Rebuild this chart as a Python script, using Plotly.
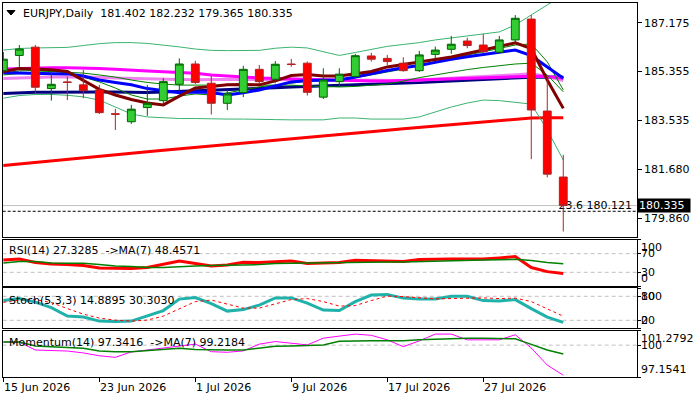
import plotly.graph_objects as go

# trading days shown on the chart
dates = ['2026-06-15', '2026-06-16', '2026-06-17', '2026-06-18', '2026-06-19',
         '2026-06-22', '2026-06-23', '2026-06-24', '2026-06-25', '2026-06-26',
         '2026-06-29', '2026-06-30', '2026-07-01', '2026-07-02', '2026-07-03',
         '2026-07-06', '2026-07-07', '2026-07-08', '2026-07-09', '2026-07-10',
         '2026-07-13', '2026-07-14', '2026-07-15', '2026-07-16', '2026-07-17',
         '2026-07-20', '2026-07-21', '2026-07-22', '2026-07-23', '2026-07-24',
         '2026-07-27', '2026-07-28', '2026-07-29', '2026-07-30', '2026-07-31',
         '2026-08-03']
label_dates = ['2026-06-15', '2026-06-23', '2026-07-01', '2026-07-09', '2026-07-17', '2026-07-27']
label_texts = ['15 Jun 2026', '23 Jun 2026', '1 Jul 2026', '9 Jul 2026', '17 Jul 2026', '27 Jul 2026']

opens = [185.38, 185.95, 186.26, 184.71, 184.96, 184.85, 184.66, 183.77, 183.47, 184.00,
         184.26, 184.87, 185.63, 184.91, 184.16, 184.56, 185.43, 185.06, 185.63, 185.66,
         184.39, 184.97, 185.16, 185.93, 185.84, 185.66, 185.38, 185.99, 186.18, 186.49,
         186.34, 186.07, 186.53, 187.31, 183.87, 181.402]
highs = [186.08, 186.34, 186.34, 185.41, 185.16, 185.41, 184.85, 183.95, 184.10, 184.85,
         185.10, 185.84, 185.75, 185.18, 184.66, 185.56, 185.59, 185.74, 185.82, 185.72,
         185.47, 185.47, 186.01, 186.05, 185.97, 185.88, 186.12, 186.28, 186.68, 186.61,
         186.75, 186.68, 187.46, 187.46, 185.10, 182.232]
lows = [185.29, 185.50, 184.53, 184.26, 184.28, 184.35, 183.76, 183.16, 183.39, 183.69,
        184.16, 184.63, 184.88, 183.74, 183.91, 184.39, 184.88, 184.91, 185.53, 184.45,
        184.32, 184.78, 185.10, 185.72, 185.59, 185.34, 185.33, 185.84, 186.01, 186.22,
        186.03, 186.01, 186.43, 182.07, 181.39, 179.365]
closes = [185.81, 186.19, 184.76, 184.87, 184.94, 184.63, 183.81, 183.75, 183.94, 184.16,
          184.97, 185.63, 184.94, 184.16, 184.51, 185.43, 184.97, 185.62, 185.61, 184.57,
          185.03, 185.25, 185.94, 185.81, 185.72, 185.38, 185.97, 186.15, 186.37, 186.32,
          186.09, 186.53, 187.34, 183.91, 181.51, 180.335]

# overlays on the price chart
bb_upper = [186.15, 186.21, 186.23, 186.23, 186.25, 186.32, 186.39, 186.43, 186.43, 186.40,
            186.34, 186.27, 186.19, 186.14, 186.13, 186.13, 186.14, 186.22, 186.26, 186.23,
            186.09, 185.95, 186.06, 186.17, 186.29, 186.36, 186.43, 186.53, 186.60, 186.68,
            186.75, 186.83, 187.09, 187.48, 187.84, 188.21]
bb_lower = [184.35, 184.45, 184.49, 184.49, 184.46, 184.40, 184.28, 184.02, 183.76, 183.65,
            183.61, 183.59, 183.59, 183.57, 183.57, 183.57, 183.57, 183.55, 183.54, 183.54,
            183.54, 183.61, 183.61, 183.57, 183.57, 183.57, 183.65, 183.84, 184.02, 184.17,
            184.28, 184.26, 184.19, 184.13, 183.16, 182.04]
ma_red = [181.83, 181.89, 181.95, 182.00, 182.06, 182.12, 182.18, 182.23, 182.29, 182.35,
          182.40, 182.45, 182.51, 182.56, 182.61, 182.67, 182.72, 182.78, 182.83, 182.89,
          182.94, 183.00, 183.05, 183.10, 183.15, 183.21, 183.26, 183.31, 183.36, 183.42,
          183.47, 183.52, 183.57, 183.61, 183.62, 183.62]
ma_navy = [184.53, 184.56, 184.57, 184.57, 184.58, 184.58, 184.58, 184.58, 184.57, 184.56,
           184.58, 184.60, 184.62, 184.64, 184.66, 184.68, 184.71, 184.74, 184.77, 184.79,
           184.81, 184.83, 184.84, 184.86, 184.88, 184.91, 184.94, 184.97, 184.99, 185.02,
           185.05, 185.08, 185.11, 185.13, 185.14, 185.13]
ma_blue = [185.30, 185.29, 185.28, 185.27, 185.26, 185.18, 185.03, 184.94, 184.85, 184.71,
           184.62, 184.55, 184.58, 184.56, 184.47, 184.55, 184.66, 184.81, 184.96, 185.01,
           185.03, 185.03, 185.14, 185.27, 185.39, 185.49, 185.57, 185.69, 185.81, 185.90,
           185.99, 186.07, 186.15, 185.94, 185.53, 185.10]
ma_maroon = [185.35, 185.46, 185.44, 185.41, 185.35, 185.03, 184.68, 184.47, 184.30, 184.17,
             184.10, 184.43, 184.73, 184.79, 184.85, 184.86, 184.85, 185.00, 185.20, 185.24,
             185.18, 185.18, 185.27, 185.35, 185.52, 185.61, 185.72, 185.80, 185.89, 186.02,
             186.15, 186.27, 186.42, 186.21, 185.03, 183.97]
ma_magenta = [185.44, 185.46, 185.49, 185.49, 185.49, 185.48, 185.46, 185.43, 185.39, 185.37,
              185.34, 185.31, 185.28, 185.22, 185.18, 185.14, 185.11, 185.09, 185.07, 185.05,
              185.03, 185.01, 184.99, 184.99, 184.99, 185.01, 185.03, 185.06, 185.08, 185.11,
              185.13, 185.14, 185.16, 185.17, 185.16, 185.10]
ma_violet = [185.09, 185.11, 185.13, 185.14, 185.14, 185.14, 185.13, 185.11, 185.09, 185.07,
             185.06, 185.05, 185.04, 185.05, 185.06, 185.06, 185.05, 185.04, 185.03, 185.03,
             185.03, 185.03, 185.02, 185.01, 185.01, 185.01, 185.03, 185.07, 185.11, 185.13,
             185.16, 185.20, 185.24, 185.26, 185.16, 185.01]
ma_green_slow = [185.22, 185.27, 185.33, 185.35, 185.33, 185.29, 185.22, 185.14, 185.03, 184.94,
                 184.88, 184.84, 184.84, 184.84, 184.84, 184.86, 184.86, 184.86, 184.84, 184.81,
                 184.79, 184.77, 184.79, 184.83, 184.88, 184.99, 185.12, 185.22, 185.33, 185.42,
                 185.50, 185.57, 185.63, 185.66, 185.22, 184.59]
ma_green_fast = [185.29, 185.37, 185.39, 185.37, 185.29, 185.14, 184.96, 184.73, 184.47, 184.32,
                 184.32, 184.43, 184.51, 184.47, 184.55, 184.66, 184.77, 184.84, 184.92, 184.99,
                 185.03, 185.05, 185.11, 185.22, 185.33, 185.44, 185.59, 185.71, 185.84, 185.97,
                 186.08, 186.21, 186.34, 186.38, 185.71, 184.66]

# oscillators
rsi = [56.5, 58.7, 51.0, 47.8, 46.7, 44.5, 39.1, 38.0, 38.0, 40.2,
       47.8, 54.3, 48.9, 43.5, 45.7, 51.5, 51.1, 53.3, 54.3, 48.9,
       50.7, 51.1, 55.9, 55.4, 54.3, 53.3, 57.6, 58.7, 58.7, 58.7,
       58.7, 60.9, 63.7, 40.2, 31.5, 27.3285]
rsi_ma = [50.0, 53.3, 53.3, 50.0, 49.3, 49.3, 46.7, 43.5, 42.4, 40.2,
          40.2, 42.4, 43.5, 44.6, 44.6, 45.7, 46.7, 48.9, 49.3, 50.0,
          50.7, 51.5, 52.2, 52.2, 52.2, 52.2, 53.3, 54.3, 55.9, 56.5,
          56.5, 57.2, 58.0, 55.4, 51.1, 48.4571]
stoch_k = [69.3, 74.3, 65.5, 51.8, 30.5, 28.0, 18.0, 16.8, 18.0, 30.5,
           44.3, 73.0, 76.8, 61.8, 43.0, 46.8, 58.0, 76.0, 76.0, 63.0,
           45.5, 44.3, 66.8, 83.0, 84.3, 75.5, 73.5, 73.5, 80.0, 80.0,
           69.3, 68.0, 71.8, 49.3, 28.0, 14.8895]
stoch_d = [65.0, 70.5, 71.8, 64.3, 49.3, 35.5, 25.5, 20.5, 18.0, 20.5,
           30.5, 49.3, 66.8, 70.5, 60.5, 50.5, 50.5, 61.8, 71.8, 74.3,
           66.8, 55.5, 56.8, 69.3, 80.5, 79.3, 75.5, 73.5, 74.3, 76.0,
           76.0, 74.3, 75.5, 66.8, 49.3, 30.3030]
momentum = [100.27, 100.27, 99.57, 99.53, 99.48, 99.31, 99.06, 98.92, 99.40, 99.57,
            99.73, 99.91, 100.09, 99.42, 99.37, 99.49, 100.09, 100.32, 100.18, 100.02,
            100.62, 100.83, 100.98, 100.87, 100.47, 99.87, 100.38, 100.98, 100.98, 100.47,
            100.47, 100.47, 100.92, 99.75, 98.23, 97.3416]
momentum_ma = [100.27, 100.27, 99.93, 99.87, 99.84, 99.73, 99.49, 99.42, 99.42, 99.53,
               99.66, 99.73, 99.62, 99.57, 99.57, 99.57, 99.75, 99.91, 99.93, 99.98,
               100.02, 100.34, 100.38, 100.38, 100.38, 100.38, 100.47, 100.52, 100.62, 100.62,
               100.62, 100.62, 100.56, 100.07, 99.57, 99.2184]

price_ticks = [187.175, 185.355, 183.535, 181.680, 179.860]
fib_level = 180.121
mom_max, mom_min = 101.2792, 97.1541

W, H = 700, 400
FONT = 'DejaVu Sans'
idx = list(range(len(dates)))


def px_x(p):
    return p / W


def px_y(p):
    return 1 - p / H


xdom = [px_x(2.7), px_x(636.7)]
xr = [-0.04, 39.59]
main_rng = [179.17, 187.93]

fig = go.Figure()

# indicator lines under the candles
main_lines = [
    (ma_red, '#FF0000', 3),
    (ma_navy, '#000080', 3),
    (ma_violet, '#EE82EE', 3),
    (ma_magenta, '#FF00FF', 3),
    (ma_green_slow, '#008000', 1),
    (ma_green_fast, '#008000', 1),
    (bb_upper, '#3CB371', 1),
    (bb_lower, '#3CB371', 1),
    (ma_blue, '#0000FF', 3),
    (ma_maroon, '#800000', 3),
]
for vals, col, w in main_lines:
    fig.add_trace(go.Scatter(x=idx, y=vals, mode='lines', line=dict(color=col, width=w),
                             xaxis='x', yaxis='y', hoverinfo='skip'))

# fibo level text (sits under the last candle like in the terminal)
fig.add_trace(go.Scatter(x=[xr[1] - 0.3], y=[fib_level], mode='text',
                         text=['23.6 %.3f' % fib_level], textposition='top left',
                         textfont=dict(family=FONT, size=11, color='black'),
                         xaxis='x', yaxis='y', hoverinfo='skip'))

fig.add_trace(go.Candlestick(
    x=idx, open=opens, high=highs, low=lows, close=closes,
    xaxis='x', yaxis='y5',
    increasing=dict(line=dict(color='#006400', width=1), fillcolor='#32CD32'),
    decreasing=dict(line=dict(color='#B22222', width=1), fillcolor='#FF0000'),
    hoverinfo='skip'))

fig.add_trace(go.Scatter(x=idx, y=rsi, mode='lines', line=dict(color='#FF0000', width=3),
                         xaxis='x2', yaxis='y2'))
fig.add_trace(go.Scatter(x=idx, y=rsi_ma, mode='lines', line=dict(color='#008000', width=1.5),
                         xaxis='x2', yaxis='y2'))
fig.add_trace(go.Scatter(x=idx, y=stoch_k, mode='lines', line=dict(color='#20B2AA', width=3),
                         xaxis='x3', yaxis='y3'))
fig.add_trace(go.Scatter(x=idx, y=stoch_d, mode='lines',
                         line=dict(color='#FF0000', width=1, dash='3px,3px'),
                         xaxis='x3', yaxis='y3'))
fig.add_trace(go.Scatter(x=idx, y=momentum, mode='lines', line=dict(color='#FF00FF', width=1),
                         xaxis='x4', yaxis='y4'))
fig.add_trace(go.Scatter(x=idx, y=momentum_ma, mode='lines', line=dict(color='#008000', width=1.5),
                         xaxis='x4', yaxis='y4'))

box = dict(showline=True, mirror=True, linecolor='black', linewidth=1,
           showgrid=False, zeroline=False)
tick_idx = [dates.index(d) for d in label_dates]

fig.update_layout(
    width=W, height=H, margin=dict(l=0, r=0, t=0, b=0),
    paper_bgcolor='white', plot_bgcolor='white', showlegend=False,
    font=dict(family=FONT, size=11, color='black'),
    xaxis=dict(domain=xdom, anchor='y', range=xr, showticklabels=False, ticks='',
               rangeslider=dict(visible=False), **box),
    xaxis2=dict(domain=xdom, anchor='y2', range=xr, matches='x', showticklabels=False, **box),
    xaxis3=dict(domain=xdom, anchor='y3', range=xr, matches='x', showticklabels=False, **box),
    xaxis4=dict(domain=xdom, anchor='y4', range=xr, matches='x', showticklabels=False,
                ticks='outside', ticklen=4, tickcolor='black', tickvals=tick_idx, **box),
    yaxis=dict(domain=[px_y(236.7), px_y(2.5)], anchor='x', side='right', range=main_rng,
               tickvals=price_ticks, ticktext=['%.3f' % v for v in price_ticks],
               ticks='outside', ticklen=4, tickcolor='black',
               tickfont=dict(family=FONT, size=11, color='black'), **box),
    yaxis5=dict(overlaying='y', anchor='x', side='right', range=main_rng, visible=False),
    yaxis2=dict(domain=[px_y(286.3), px_y(239.7)], anchor='x2', side='right', range=[0, 100],
                tickvals=[0, 30, 70, 100], ticks='outside', ticklen=3, tickcolor='black',
                showticklabels=False, **box),
    yaxis3=dict(domain=[px_y(328.3), px_y(288.3)], anchor='x3', side='right', range=[0, 100],
                tickvals=[0, 20, 80, 100], ticks='outside', ticklen=3, tickcolor='black',
                showticklabels=False, **box),
    yaxis4=dict(domain=[px_y(377.3), px_y(330.7)], anchor='x4', side='right',
                range=[mom_min, mom_max], tickvals=[mom_min, 100, mom_max], ticks='outside',
                ticklen=3, tickcolor='black', showticklabels=False, **box),
)

shapes = [
    dict(type='line', xref='x domain', x0=0, x1=1, yref='y', y0=closes[-1], y1=closes[-1],
         line=dict(color='#C0C0C0', width=1), layer='below'),
    dict(type='line', xref='x domain', x0=0, x1=1, yref='y', y0=fib_level, y1=fib_level,
         line=dict(color='black', width=1, dash='3px,2px'), layer='below'),
    dict(type='path', xref='paper', yref='paper',
         path='M %f,%f L %f,%f L %f,%f Z' % (px_x(7), px_y(10.5), px_x(15), px_y(10.5),
                                             px_x(11), px_y(15)),
         fillcolor='black', line=dict(color='black', width=1)),
]
for ax, lv in [('2', 70), ('2', 30), ('3', 80), ('3', 20), ('4', 100)]:
    shapes.append(dict(type='line', xref='x%s domain' % ax, x0=0, x1=1, yref='y' + ax,
                       y0=lv, y1=lv, line=dict(color='#C0C0C0', width=1, dash='4px,3px'),
                       layer='below'))
fig.update_layout(shapes=shapes)

NB = '\u00a0'
anns = [
    dict(text='EURJPY,Daily' + NB * 2 + '%.3f %.3f %.3f %.3f' % (opens[-1], highs[-1], lows[-1], closes[-1]),
         xref='paper', yref='paper', x=px_x(20.5), y=px_y(13.3), xanchor='left', yanchor='middle'),
    dict(text='RSI(14) %.4f' % rsi[-1] + NB * 2 + '->MA(7) %.4f' % rsi_ma[-1],
         xref='paper', yref='paper', x=px_x(6.5), y=px_y(251), xanchor='left', yanchor='middle'),
    dict(text='Stoch(5,3,3) %.4f %.4f' % (stoch_k[-1], stoch_d[-1]),
         xref='paper', yref='paper', x=px_x(6.5), y=px_y(300.5), xanchor='left', yanchor='middle'),
    dict(text='Momentum(14) %.4f' % momentum[-1] + NB * 2 + '->MA(7) %.4f' % momentum_ma[-1],
         xref='paper', yref='paper', x=px_x(6.5), y=px_y(342.5), xanchor='left', yanchor='middle'),
    dict(text='%.3f' % closes[-1], xref='paper', yref='y', x=xdom[1], y=closes[-1],
         xanchor='left', yanchor='middle', bgcolor='black', font=dict(color='white'),
         width=50, height=11, align='left', borderpad=1),
]
# right-hand scale labels of the lower windows
for ax, val, txt, shift in [
        ('y2', 100, '100', -8), ('y2', 70, '70', 0), ('y2', 30, '30', 0), ('y2', 0, '0', 8),
        ('y3', 100, '100', -8.5), ('y3', 80, '80', 0), ('y3', 20, '20', 0), ('y3', 0, '0', 7.5),
        ('y4', mom_max, '%.4f' % mom_max, -8), ('y4', 100, '100', 0), ('y4', mom_min, '%.4f' % mom_min, 8)]:
    anns.append(dict(text=txt, xref='paper', yref=ax, x=px_x(639.3), y=val, xanchor='left',
                     yanchor='middle', yshift=shift))
for i, t in zip(tick_idx, label_texts):
    anns.append(dict(text=t, xref='x4', yref='paper', x=i, y=px_y(387.7), xanchor='left',
                     yanchor='middle', xshift=-1))
for a in anns:
    a.setdefault('showarrow', False)
    a.setdefault('font', dict())
    a['font'] = dict(dict(family=FONT, size=11, color='black'), **a['font'])
fig.update_layout(annotations=anns)

# the page body keeps a default 8px margin; drop it so the figure fills the window
fig.write_html('out.html', config={'displayModeBar': False},
               post_script="document.body.style.margin='0';")
